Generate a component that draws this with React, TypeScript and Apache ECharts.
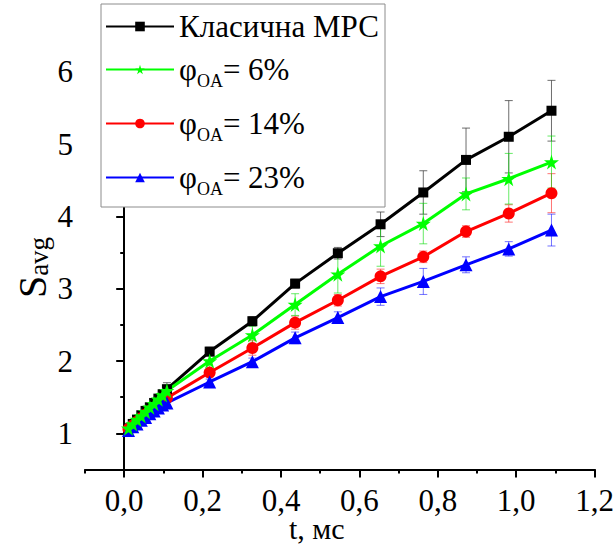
import React, { useEffect, useRef } from 'react';
import * as echarts from 'echarts';

const timeMs = [0.0109, 0.0218, 0.0327, 0.0436, 0.0545, 0.0654, 0.0763, 0.0872, 0.0981, 0.109,
  0.218, 0.327, 0.436, 0.545, 0.654, 0.763, 0.872, 0.981, 1.09];

const classicMPC = [1.07, 1.13, 1.19, 1.25, 1.31, 1.36, 1.42, 1.48, 1.54, 1.61,
  2.13, 2.55, 3.07, 3.49, 3.89, 4.33, 4.78, 5.10, 5.46];
const classicErr = [0.02, 0.02, 0.03, 0.03, 0.03, 0.04, 0.05, 0.05, 0.06, 0.09,
  0.06, 0.06, 0.06, 0.08, 0.17, 0.30, 0.44, 0.50, 0.42];

const oa6 = [1.07, 1.13, 1.19, 1.24, 1.30, 1.36, 1.41, 1.47, 1.53, 1.59,
  2.00, 2.36, 2.78, 3.20, 3.59, 3.90, 4.31, 4.52, 4.75];
const oa6Err = [0.03, 0.03, 0.04, 0.04, 0.05, 0.05, 0.06, 0.06, 0.07, 0.08,
  0.10, 0.12, 0.15, 0.26, 0.28, 0.28, 0.22, 0.35, 0.36];

const oa14 = [1.06, 1.11, 1.16, 1.21, 1.26, 1.31, 1.35, 1.40, 1.45, 1.49,
  1.84, 2.18, 2.53, 2.84, 3.17, 3.44, 3.79, 4.04, 4.32];
const oa14Err = [0.02, 0.02, 0.02, 0.03, 0.03, 0.03, 0.03, 0.04, 0.04, 0.05,
  0.06, 0.10, 0.09, 0.08, 0.10, 0.08, 0.08, 0.12, 0.27];

const oa23 = [1.04, 1.09, 1.13, 1.18, 1.22, 1.27, 1.31, 1.35, 1.39, 1.42,
  1.71, 1.99, 2.32, 2.60, 2.89, 3.10, 3.33, 3.55, 3.81];
const oa23Err = [0.02, 0.02, 0.02, 0.02, 0.03, 0.03, 0.03, 0.03, 0.04, 0.04,
  0.04, 0.05, 0.08, 0.08, 0.12, 0.18, 0.11, 0.10, 0.22];

const xMajorTicks = [0, 0.2, 0.4, 0.6, 0.8, 1.0, 1.2];
const yMajorTicks = [1, 2, 3, 4, 5, 6];

const seriesNames = ['Класична МРС', 'φOA= 6%', 'φOA= 14%', 'φOA= 23%'];

const FONT = '"Liberation Serif", "Times New Roman", "DejaVu Serif", serif';
const STAR = 'path://M50,0 L61,35 L98,35 L68,57 L79,91 L50,70 L21,91 L32,57 L2,35 L39,35 Z';

function errorSeries(name: string, values: number[], errs: number[], color: string) {
  return {
    type: 'custom',
    name,
    silent: true,
    encode: { x: 0, y: 1 },
    data: timeMs.map((t, i) => [t, values[i], errs[i]]),
    renderItem: (params: any, api: any) => {
      const x = api.value(0);
      const y = api.value(1);
      const e = api.value(2);
      const hi = api.coord([x, y + e]);
      const lo = api.coord([x, y - e]);
      const hw = 4;
      const style = { stroke: color, lineWidth: 1, fill: 'none' };
      return {
        type: 'group',
        children: [
          { type: 'line', shape: { x1: hi[0], y1: hi[1], x2: lo[0], y2: lo[1] }, style },
          { type: 'line', shape: { x1: hi[0] - hw, y1: hi[1], x2: hi[0] + hw, y2: hi[1] }, style },
          { type: 'line', shape: { x1: lo[0] - hw, y1: lo[1], x2: lo[0] + hw, y2: lo[1] }, style },
        ],
      };
    },
  };
}

function lineSeries(name: string, values: number[], color: string, symbol: string, size: number) {
  return {
    type: 'line',
    name,
    data: timeMs.map((t, i) => [t, values[i]]),
    symbol,
    symbolSize: size,
    showAllSymbol: true,
    lineStyle: { color, width: 3 },
    itemStyle: { color },
    emphasis: { disabled: true },
  };
}

const legendRich = {
  t: { fontFamily: FONT, fontSize: 31, lineHeight: 30, color: '#000' },
  m: { fontFamily: FONT, fontSize: 31, lineHeight: 40, color: '#000' },
  s: { fontFamily: FONT, fontSize: 18, lineHeight: 17, padding: [23, 0, 0, 0], color: '#000' },
};

const legendCommon = {
  orient: 'vertical',
  left: 105,
  padding: 0,
  itemWidth: 68,
  itemHeight: 12,
  selectedMode: false,
  z: 5,
  formatter: (name: string) => {
    if (name === seriesNames[0]) return `{t|${name}}`;
    const pct = name.split('=')[1].trim();
    return `{m|φ}{s|OA}{m|= ${pct}}`;
  },
  textStyle: { fontFamily: FONT, fontSize: 31, color: '#000', rich: legendRich },
};

export default function App() {
  const ref = useRef<HTMLDivElement>(null);
  useEffect(() => {
    if (!ref.current) return;
    const chart = echarts.init(ref.current, undefined, { renderer: 'svg' });
    const axisBase = {
      axisLine: { show: true, lineStyle: { color: '#000', width: 2 } },
      splitLine: { show: false },
    };
    chart.setOption({
      animation: false,
      backgroundColor: '#fff',
      textStyle: { fontFamily: FONT },
      grid: { left: 85, right: 19.4, top: 35.5, bottom: 75.5, containLabel: false, outerBoundsMode: 'none' },
      graphic: [
        {
          type: 'rect',
          z: 4,
          shape: { x: 101, y: 4, width: 284, height: 203 },
          style: { fill: '#fff', stroke: '#8c8c8c', lineWidth: 1 },
        },
      ],
      legend: [
        { ...legendCommon, top: 11, data: [seriesNames[0]] },
        { ...legendCommon, top: 49, itemGap: 13, data: seriesNames.slice(1) },
      ],
      xAxis: [
        {
          ...axisBase,
          type: 'value',
          min: -0.1,
          max: 1.2,
          name: 't, мс',
          nameLocation: 'middle',
          nameGap: 44,
          nameMoveOverlap: false,
          nameTextStyle: { fontFamily: FONT, fontSize: 30, lineHeight: 30, color: '#000', padding: [0, 46, 0, 0] },
          axisTick: { show: true, inside: false, length: 8, lineStyle: { color: '#000', width: 2 }, customValues: xMajorTicks },
          axisLabel: {
            show: true,
            margin: 15,
            customValues: xMajorTicks,
            fontFamily: FONT,
            fontSize: 31,
            color: '#000',
            formatter: (v: number) => v.toFixed(1).replace('.', ','),
          },
        },
        {
          type: 'value',
          min: -0.1,
          max: 1.2,
          interval: 0.1,
          position: 'bottom',
          axisLine: { show: false },
          splitLine: { show: false },
          axisLabel: { show: false },
          axisTick: { show: true, length: 4, lineStyle: { color: '#000', width: 2 } },
        },
      ],
      yAxis: [
        {
          ...axisBase,
          type: 'value',
          min: 0.5,
          max: 6.5,
          name: '{S|S}{a|avg}',
          nameLocation: 'middle',
          nameRotate: 90,
          nameGap: 35,
          nameMoveOverlap: false,
          nameTextStyle: {
            padding: [0, 30, 0, 0],
            rich: {
              S: { fontFamily: FONT, fontSize: 40, lineHeight: 36, color: '#000' },
              a: { fontFamily: FONT, fontSize: 27, lineHeight: 24, padding: [14, 0, 0, 0], color: '#000' },
            },
          },
          axisTick: { show: true, inside: false, length: 8, lineStyle: { color: '#000', width: 2 }, customValues: yMajorTicks },
          axisLabel: {
            show: true,
            margin: 12,
            customValues: yMajorTicks,
            fontFamily: FONT,
            fontSize: 31,
            color: '#000',
            formatter: (v: number) => String(Math.round(v)),
          },
        },
        {
          type: 'value',
          min: 0.5,
          max: 6.5,
          interval: 0.5,
          position: 'left',
          axisLine: { show: false },
          splitLine: { show: false },
          axisLabel: { show: false },
          axisTick: { show: true, length: 4, lineStyle: { color: '#000', width: 2 } },
        },
      ],
      series: [
        errorSeries('err-classic', classicMPC, classicErr, 'rgba(60,60,60,0.75)'),
        lineSeries(seriesNames[0], classicMPC, '#000000', 'rect', 10),
        errorSeries('err-14', oa14, oa14Err, 'rgba(255,0,0,0.55)'),
        lineSeries(seriesNames[2], oa14, '#ff0000', 'circle', 12),
        errorSeries('err-23', oa23, oa23Err, 'rgba(0,0,255,0.55)'),
        lineSeries(seriesNames[3], oa23, '#0000ff', 'triangle', 13),
        errorSeries('err-6', oa6, oa6Err, 'rgba(0,220,0,0.6)'),
        lineSeries(seriesNames[1], oa6, '#00ff00', STAR, 15),
      ],
    });
    return () => chart.dispose();
  }, []);
  return (
    <div
      ref={ref}
      style={{ position: 'fixed', left: 0, top: 0, width: 614, height: 545, background: '#fff' }}
    />
  );
}
